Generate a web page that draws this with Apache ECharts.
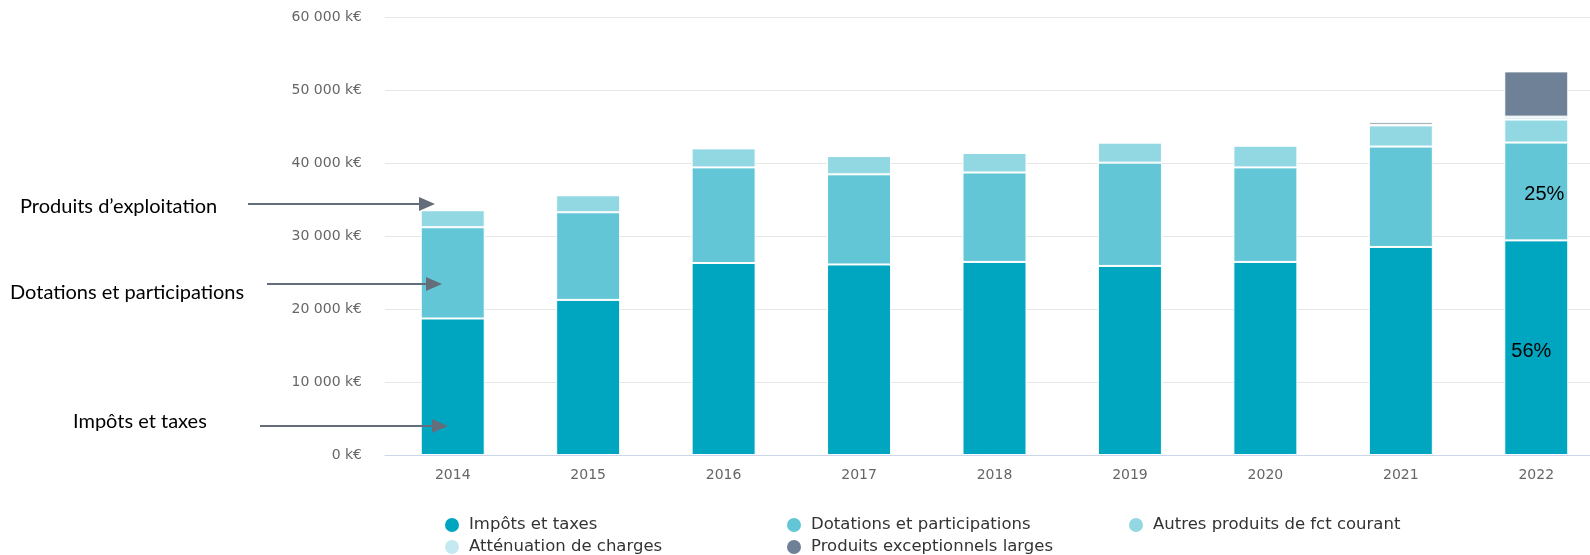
<!DOCTYPE html>
<html>
<head>
<meta charset="utf-8">
<script src="https://cdn.jsdelivr.net/npm/echarts@6/dist/echarts.min.js"></script>
<style>
html,body{margin:0;padding:0;background:#fff;}
#chart{width:1590px;height:555px;}
</style>
</head>
<body>
<div id="chart"></div>
<script>
// ---- Data (k€) ----
const years = ['2014','2015','2016','2017','2018','2019','2020','2021','2022'];
const impots        = [18700, 21250, 26300, 26100, 26450, 25900, 26450, 28500, 29400];
const dotations     = [12500, 12000, 13100, 12350, 12250, 14150, 12950, 13750, 13400];
const autres        = [ 2330,  2330,  2600,  2500,  2680,  2740,  2970,  2900,  3150];
const attenuation   = [   80,    80,    80,    80,    80,    80,    80,    80,   400];
const exceptionnels = [    0,     0,     0,     0,     0,     0,     0,   350,  6200];
const yTicks = [0, 10000, 20000, 30000, 40000, 50000, 60000];
const seriesNames = ['Impôts et taxes','Dotations et participations','Autres produits de fct courant','Atténuation de charges','Produits exceptionnels larges'];
const seriesColors = ['#00a6c0','#63c6d6','#92d8e3','#c4e9f0','#6f8196'];
const shareLabels2022 = ['56%','25%'];
const annotations = ['Produits d\u2019exploitation','Dotations et participations','Impôts et taxes'];

const chart = echarts.init(document.getElementById('chart'), null, {renderer:'canvas'});

function fmt(v){ return String(v).replace(/\B(?=(\d{3})+(?!\d))/g,' ') + ' k€'; }

const valuesList = [impots, dotations, autres, attenuation, exceptionnels];
const labelOffsets = [[-5, 4], [8, 3]];
const series = seriesNames.map((name, si) => ({
  name: name,
  type: 'bar',
  stack: 'total',
  barWidth: 64,
  itemStyle: {color: seriesColors[si], borderColor: '#ffffff', borderWidth: 1},
  emphasis: {disabled: true},
  data: valuesList[si].map((v, i) => {
    if (i === years.length - 1 && si < 2) {
      return {value: v, label: {show: true, position: 'inside', formatter: shareLabels2022[si],
        offset: labelOffsets[si], color: '#000', fontFamily: 'Liberation Sans', fontSize: 20}};
    }
    return v;
  })
}));

const ellipse = 'path://M0,50 A50,50 0 1,1 100,50 A50,50 0 1,1 0,50 Z';
const legendPos = [[443, 516], [785, 516], [1127, 516], [443, 538], [785, 538]];
const legends = seriesNames.map((name, i) => ({
  data: [name], left: legendPos[i][0], top: legendPos[i][1], padding: 0,
  icon: ellipse, itemWidth: 20, itemHeight: 16,
  selectedMode: false,
  textStyle: {fontFamily: 'DejaVu Sans', fontSize: 16.5, color: '#333', padding: [0,0,0,2]}
}));

const arrowColor = '#646e7a';
function arrow(x1, x2, y){
  return [
    {type:'line', z: 100, shape:{x1:x1, y1:y, x2:x2-14, y2:y}, style:{stroke:arrowColor, lineWidth:2}},
    {type:'polygon', z: 100, shape:{points:[[x2-16,y-7],[x2,y],[x2-16,y+7]]}, style:{fill:arrowColor}}
  ];
}
const annPos = [[20, 209, 248, 435, 204], [10, 295, 267, 442, 284], [73, 424, 260, 448, 426]];
const graphics = [];
annotations.forEach((t, i) => {
  const p = annPos[i];
  graphics.push({type:'text', z: 100, left: p[0], top: p[1] - 12,
    style:{text: t, font: '20px Lato', fill: '#000'}});
  graphics.push(...arrow(p[2], p[3], p[4]));
});

chart.setOption({
  animation: false,
  backgroundColor: '#fff',
  grid: {left: 385, top: 17, width: 1219, bottom: 100, containLabel: false, outerBoundsMode: 'none'},
  legend: legends,
  xAxis: {
    type: 'category', data: years,
    axisLine: {lineStyle: {color: '#ccd6eb', width: 1}},
    axisTick: {show: false},
    axisLabel: {color: '#666', fontFamily: 'DejaVu Sans', fontSize: 14, margin: 13}
  },
  yAxis: {
    type: 'value', min: yTicks[0], max: yTicks[yTicks.length-1], interval: 10000,
    axisLine: {show: false}, axisTick: {show: false},
    splitLine: {lineStyle: {color: '#e6e6e6', width: 1}},
    axisLabel: {color: '#666', fontFamily: 'DejaVu Sans', fontSize: 14, margin: 23, formatter: fmt,
      padding: [4, 0, 0, 0]}
  },
  series: series,
  graphic: graphics
});
</script>
</body>
</html>
